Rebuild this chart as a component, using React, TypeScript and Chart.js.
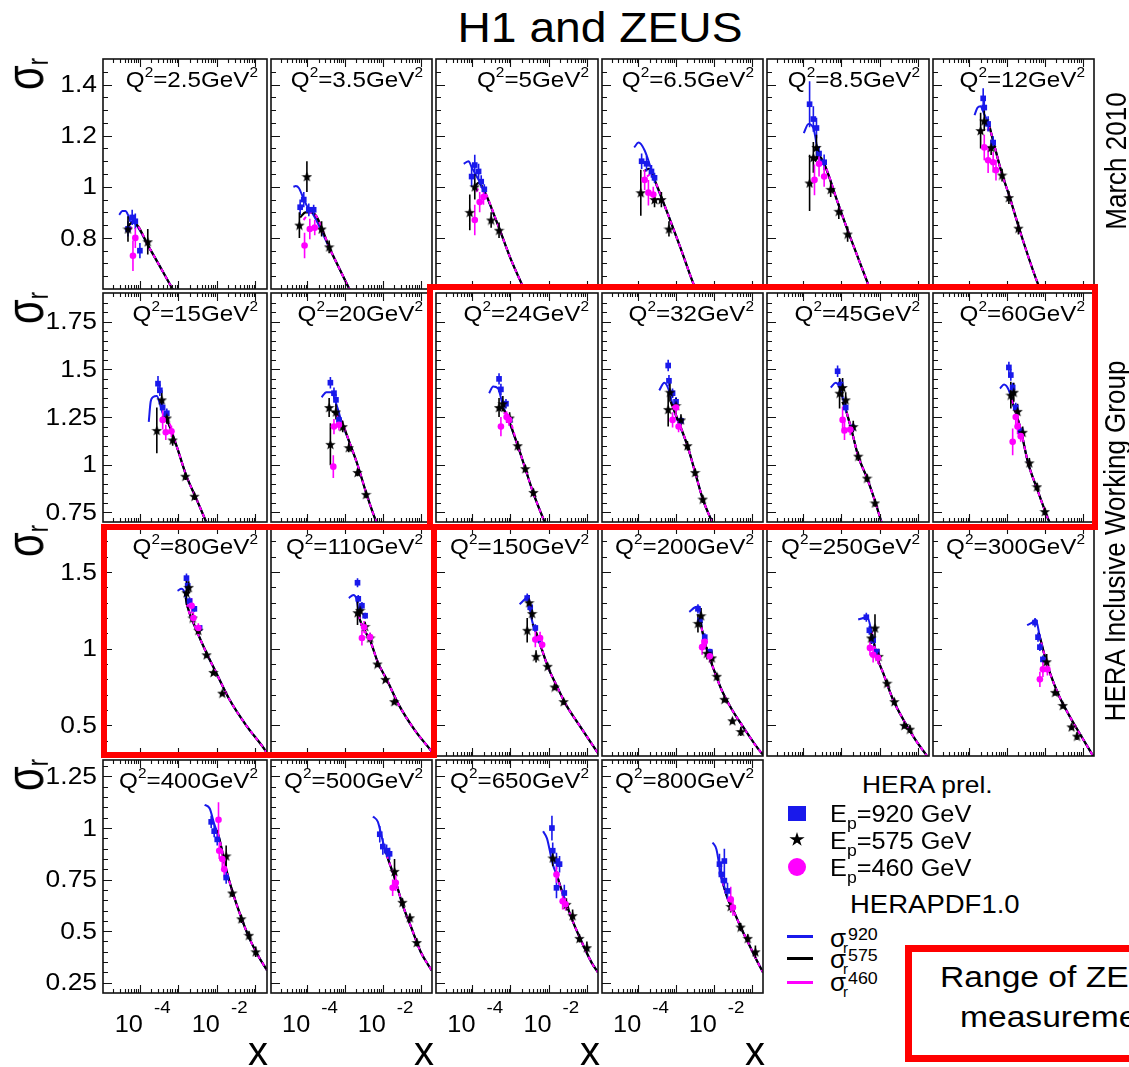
import React, { useEffect, useRef } from 'react';
import { Chart, registerables } from 'chart.js';

Chart.register(...registerables);

const FONT = '"Liberation Sans", Arial, Helvetica, sans-serif';
const SX = 1.1;
const BLUE = 'rgb(25,25,235)';
const MAGENTA = 'rgb(255,0,255)';

// ---------------- data ----------------
const Q2_LABELS = ['2.5', '3.5', '5', '6.5', '8.5', '12', '15', '20', '24', '32', '45', '60', '80', '110', '150', '200', '250', '300', '400', '500', '650', '800'];

const ROW_Y_MIN = [0.6, 0.7, 0.3, 0.2];
const ROW_Y_MAX = [1.5, 1.9, 1.8, 1.33];
const ROW_Y_MAJOR = [[0.8, 1, 1.2, 1.4], [0.75, 1, 1.25, 1.5, 1.75], [0.5, 1, 1.5], [0.25, 0.5, 0.75, 1, 1.25]];
const ROW_Y_LABELS = [['0.8', '1', '1.2', '1.4'], ['0.75', '1', '1.25', '1.5', '1.75'], ['0.5', '1', '1.5'], ['0.25', '0.5', '0.75', '1', '1.25']];
const ROW_Y_MINOR_STEP = [0.05, 0.05, 0.1, 0.05];

const X_MIN = 1.1e-5;
const X_MAX = 0.2;
const X_LABEL_VALUES = [1e-4, 1e-2];
const X_LABEL_EXPONENTS = ['-4', '-2'];

// HERAPDF1.0 curves: low-x part of sigma_r(920), shared high-x part, low-x starts of 575 / 460
const PDF920_HOOK = [
  [[2.9e-5, 0.89], [3.5e-5, 0.905], [4.2e-5, 0.905], [4.9e-5, 0.89], [5.6e-5, 0.865]],
  [[4.3e-5, 1.0], [5.0e-5, 1.003], [6.0e-5, 0.995], [7.9e-5, 0.955], [1.07e-4, 0.915]],
  [[5.9e-5, 1.09], [7.9e-5, 1.10], [9.5e-5, 1.077], [1.45e-4, 1.027]],
  [[7.8e-5, 1.154], [1.02e-4, 1.173], [1.48e-4, 1.142], [2.24e-4, 1.065]],
  [[1.02e-4, 1.21], [1.35e-4, 1.246], [1.82e-4, 1.23], [2.57e-4, 1.115]],
  [[1.38e-4, 1.28], [1.66e-4, 1.31], [2.0e-4, 1.315], [2.4e-4, 1.29], [3.16e-4, 1.25]],
  [[1.7e-4, 1.225], [1.9e-4, 1.33], [2.2e-4, 1.355], [2.75e-4, 1.36], [3.3e-4, 1.32], [3.9e-4, 1.27]],
  [[2.4e-4, 1.354], [3.2e-4, 1.38], [4.3e-4, 1.38], [6.5e-4, 1.29]],
  [[2.75e-4, 1.375], [3.5e-4, 1.41], [4.7e-4, 1.40], [6.3e-4, 1.31]],
  [[3.6e-4, 1.39], [4.9e-4, 1.43], [6.5e-4, 1.39]],
  [[5.2e-4, 1.405], [7.1e-4, 1.43], [9.5e-4, 1.39]],
  [[6.5e-4, 1.40], [8.3e-4, 1.42], [1.12e-3, 1.39]],
  [[9.5e-4, 1.377], [1.2e-3, 1.39], [1.45e-3, 1.365]],
  [[1.26e-3, 1.33], [1.66e-3, 1.35], [2.0e-3, 1.325]],
  [[1.74e-3, 1.29], [2.45e-3, 1.325], [2.95e-3, 1.345], [3.55e-3, 1.20]],
  [[2.24e-3, 1.24], [3.2e-3, 1.27], [4.1e-3, 1.275]],
  [[2.75e-3, 1.19], [3.7e-3, 1.20], [4.7e-3, 1.21]],
  [[3.4e-3, 1.153], [4.6e-3, 1.17], [5.75e-3, 1.19]],
  [[4.8e-3, 1.113], [6.5e-3, 1.095], [8.5e-3, 1.02]],
  [[5.5e-3, 1.056], [7.4e-3, 1.03], [1.0e-2, 0.935]],
  [[7.2e-3, 0.984], [9.1e-3, 0.95], [1.29e-2, 0.825]],
  [[9.3e-3, 0.93], [1.17e-2, 0.897], [1.58e-2, 0.76]],
];

const PDF_MAIN = [
  [[6.6e-5, 0.862], [1.8e-4, 0.758], [6.8e-4, 0.604], [1.0e-3, 0.56]],
  [[1.32e-4, 0.90], [4.3e-4, 0.746], [1.26e-3, 0.604], [1.78e-3, 0.56]],
  [[1.95e-4, 0.99], [4.7e-4, 0.85], [1.0e-3, 0.72], [2.2e-3, 0.604], [3.2e-3, 0.55]],
  [[2.7e-4, 1.027], [6.2e-4, 0.89], [1.32e-3, 0.76], [3.2e-3, 0.604], [4.5e-3, 0.56]],
  [[3.5e-4, 1.09], [7.9e-4, 0.94], [1.45e-3, 0.83], [4.7e-3, 0.63], [7.9e-3, 0.54]],
  [[3.8e-4, 1.21], [6.9e-4, 1.065], [1.23e-3, 0.95], [2.24e-3, 0.823], [6.2e-3, 0.63], [1.0e-2, 0.56]],
  [[5.0e-4, 1.235], [8.9e-4, 1.10], [1.62e-3, 0.94], [2.95e-3, 0.82], [5.4e-3, 0.695], [7.1e-3, 0.64]],
  [[7.8e-4, 1.235], [1.41e-3, 1.10], [2.14e-3, 1.0], [3.8e-3, 0.84], [6.9e-3, 0.695], [1.0e-2, 0.63]],
  [[7.6e-4, 1.27], [1.55e-3, 1.10], [2.45e-3, 0.98], [4.0e-3, 0.85], [8.1e-3, 0.695], [1.12e-2, 0.63]],
  [[8.7e-4, 1.29], [2.0e-3, 1.10], [3.2e-3, 0.96], [5.1e-3, 0.82], [9.3e-3, 0.695], [1.26e-2, 0.64]],
  [[1.29e-3, 1.29], [1.9e-3, 1.17], [2.75e-3, 1.045], [4.7e-3, 0.93], [7.6e-3, 0.81], [1.15e-2, 0.695], [1.58e-2, 0.63]],
  [[1.41e-3, 1.325], [2.3e-3, 1.185], [3.6e-3, 1.01], [6.2e-3, 0.875], [1.12e-2, 0.735], [1.78e-2, 0.64]],
  [[1.74e-3, 1.27], [2.95e-3, 1.12], [5.4e-3, 0.97], [9.5e-3, 0.845], [2.1e-2, 0.67], [5.75e-2, 0.50], [0.166, 0.35], [0.224, 0.30]],
  [[2.5e-3, 1.185], [4.6e-3, 1.055], [7.4e-3, 0.91], [1.26e-2, 0.80], [2.7e-2, 0.63], [7.4e-2, 0.46], [0.182, 0.34], [0.224, 0.31]],
  [[4.5e-3, 1.12], [6.8e-3, 0.99], [9.5e-3, 0.885], [1.66e-2, 0.755], [2.95e-2, 0.63], [6.5e-2, 0.50], [0.186, 0.33], [0.224, 0.30]],
  [[4.9e-3, 1.12], [6.6e-3, 0.99], [9.3e-3, 0.885], [1.58e-2, 0.735], [2.9e-2, 0.61], [5.6e-2, 0.50], [0.182, 0.32], [0.224, 0.30]],
  [[6.3e-3, 1.10], [8.5e-3, 0.95], [1.23e-2, 0.845], [2.24e-2, 0.67], [4.5e-2, 0.525], [9.1e-2, 0.40], [0.166, 0.31], [0.2, 0.28]],
  [[7.4e-3, 1.075], [1.0e-2, 0.95], [1.35e-2, 0.845], [2.4e-2, 0.69], [4.4e-2, 0.565], [8.9e-2, 0.435], [0.17, 0.32], [0.2, 0.29]],
  [[1.15e-2, 0.95], [1.74e-2, 0.80], [2.5e-2, 0.695], [4.3e-2, 0.565], [6.8e-2, 0.47], [0.123, 0.375], [0.2, 0.31]],
  [[1.35e-2, 0.855], [2.04e-2, 0.76], [3.3e-2, 0.63], [5.6e-2, 0.52], [0.1, 0.40], [0.195, 0.31]],
  [[1.74e-2, 0.76], [2.6e-2, 0.66], [4.3e-2, 0.55], [7.8e-2, 0.44], [0.138, 0.345], [0.2, 0.30]],
  [[2.3e-2, 0.66], [3.5e-2, 0.59], [5.1e-2, 0.52], [8.3e-2, 0.44], [0.135, 0.36], [0.2, 0.30]],
];

const PDF575_START = [
  [[4.6e-5, 0.84], [5.6e-5, 0.855]], [[6.5e-5, 0.88], [9.0e-5, 0.90]], [[1.05e-4, 0.99], [1.45e-4, 1.015]],
  [[1.4e-4, 1.06], [1.9e-4, 1.07]], [[2.0e-4, 1.10], [2.6e-4, 1.12]], [[2.6e-4, 1.24], [3.2e-4, 1.25]],
  [[3.6e-4, 1.24], [4.2e-4, 1.245]], [[4.6e-4, 1.28], [6.0e-4, 1.265]], [[5.5e-4, 1.30], [6.5e-4, 1.29]],
  [[7.2e-4, 1.33]], [[1.05e-3, 1.33]], [[1.25e-3, 1.36]], [[1.55e-3, 1.33]], [[2.2e-3, 1.25]], [[3.8e-3, 1.16]],
  [[4.5e-3, 1.17]], [[5.5e-3, 1.13]], [[6.8e-3, 1.10]], [[1.0e-2, 0.99]], [[1.2e-2, 0.89]], [[1.6e-2, 0.79]], [[1.45e-2, 0.79]],
];

const PDF460_START = [
  [[5.6e-5, 0.83]], [[8.0e-5, 0.87], [1.1e-4, 0.895]], [[1.25e-4, 0.98], [1.6e-4, 1.0]],
  [[1.7e-4, 1.04], [2.2e-4, 1.05]], [[2.4e-4, 1.08], [3.0e-4, 1.10]], [[3.0e-4, 1.22], [3.5e-4, 1.23]],
  [[4.2e-4, 1.23]], [[5.5e-4, 1.26], [6.8e-4, 1.25]], [[6.5e-4, 1.27]], [[8.0e-4, 1.31]], [[1.15e-3, 1.31]],
  [[1.33e-3, 1.34]], [[1.65e-3, 1.30]], [[2.35e-3, 1.22]], [[4.2e-3, 1.13]], [[4.7e-3, 1.14]], [[5.9e-3, 1.12]],
  [[7.1e-3, 1.09]], [[1.05e-2, 0.97]], [[1.28e-2, 0.87]], [[1.68e-2, 0.775]], [[1.52e-2, 0.775]],
];

// measurements: [x, sigma_r, error]
const DATA_920 = [
  [[4.9e-5, 0.835, 0.03], [6.3e-5, 0.88, 0.03], [7.6e-5, 0.865, 0.03], [1.0e-4, 0.75, 0.03]],
  [[6.5e-5, 0.92, 0.03], [8.1e-5, 0.95, 0.03], [1.1e-4, 0.91, 0.025], [1.48e-4, 0.91, 0.02]],
  [[9.5e-5, 1.04, 0.04], [1.15e-4, 1.085, 0.04], [1.45e-4, 1.06, 0.03], [1.7e-4, 1.02, 0.025], [2.05e-4, 0.99, 0.02]],
  [[1.23e-4, 1.10, 0.03], [1.66e-4, 1.09, 0.03], [2.24e-4, 1.06, 0.025], [2.7e-4, 1.035, 0.02]],
  [[1.45e-4, 1.323, 0.09], [1.82e-4, 1.265, 0.05], [2.2e-4, 1.23, 0.04], [2.57e-4, 1.13, 0.03], [3.5e-4, 1.096, 0.03]],
  [[2.34e-4, 1.346, 0.04], [2.5e-4, 1.31, 0.03], [3.16e-4, 1.246, 0.03], [4.3e-4, 1.173, 0.025]],
  [[2.95e-4, 1.425, 0.04], [3.3e-4, 1.39, 0.03], [3.9e-4, 1.30, 0.03], [5.0e-4, 1.27, 0.025]],
  [[4.1e-4, 1.43, 0.03], [5.1e-4, 1.375, 0.03], [5.75e-4, 1.34, 0.03], [6.9e-4, 1.235, 0.025]],
  [[5.0e-4, 1.45, 0.03], [5.6e-4, 1.395, 0.03], [7.6e-4, 1.32, 0.025], [9.5e-4, 1.235, 0.02]],
  [[6.2e-4, 1.52, 0.03], [6.5e-4, 1.44, 0.03], [8.1e-4, 1.375, 0.025], [1.0e-3, 1.33, 0.025], [1.35e-3, 1.23, 0.02]],
  [[7.9e-4, 1.49, 0.03], [9.5e-4, 1.42, 0.03], [1.29e-3, 1.30, 0.025], [1.95e-3, 1.195, 0.02]],
  [[1.12e-3, 1.51, 0.03], [1.26e-3, 1.47, 0.03], [1.41e-3, 1.405, 0.025], [1.7e-3, 1.30, 0.025], [2.3e-3, 1.175, 0.02]],
  [[1.62e-3, 1.46, 0.03], [1.74e-3, 1.41, 0.03], [1.95e-3, 1.31, 0.025], [2.6e-3, 1.26, 0.02], [3.55e-3, 1.135, 0.02]],
  [[2.14e-3, 1.43, 0.03], [2.24e-3, 1.325, 0.025], [2.8e-3, 1.28, 0.025], [3.4e-3, 1.215, 0.02]],
  [[2.75e-3, 1.33, 0.03], [3.3e-3, 1.27, 0.03], [4.5e-3, 1.135, 0.025], [5.4e-3, 1.06, 0.02]],
  [[3.8e-3, 1.26, 0.03], [4.3e-3, 1.185, 0.03], [5.75e-3, 1.075, 0.025], [7.8e-3, 0.98, 0.02]],
  [[4.5e-3, 1.205, 0.03], [5.4e-3, 1.12, 0.03], [6.8e-3, 1.055, 0.025], [8.5e-3, 0.98, 0.02]],
  [[5.5e-3, 1.17, 0.03], [6.6e-3, 1.075, 0.03], [7.4e-3, 1.01, 0.025], [8.9e-3, 0.93, 0.025]],
  [[7.1e-3, 1.03, 0.03], [8.5e-3, 0.985, 0.03], [1.02e-2, 0.945, 0.03], [1.74e-2, 0.76, 0.03]],
  [[8.3e-3, 0.97, 0.04], [1.0e-2, 0.91, 0.04], [1.26e-2, 0.89, 0.03], [1.51e-2, 0.875, 0.03]],
  [[1.23e-2, 1.0, 0.06], [1.29e-2, 0.89, 0.04], [1.62e-2, 0.84, 0.04], [1.95e-2, 0.825, 0.04], [1.62e-2, 0.71, 0.05], [2.6e-2, 0.685, 0.04]],
  [[1.41e-2, 0.825, 0.05], [1.58e-2, 0.775, 0.04], [1.9e-2, 0.84, 0.06], [1.9e-2, 0.745, 0.04], [2.3e-2, 0.695, 0.04]],
];

const DATA_575 = [
  [[4.9e-5, 0.835, 0.05], [1.6e-4, 0.785, 0.05]],
  [[6.2e-5, 0.85, 0.05], [9.8e-5, 1.04, 0.06], [2.4e-4, 0.835, 0.03], [3.8e-4, 0.765, 0.025]],
  [[8.5e-5, 0.90, 0.07], [1.15e-4, 1.0, 0.05], [3.1e-4, 0.87, 0.03], [5.0e-4, 0.83, 0.03]],
  [[1.17e-4, 0.977, 0.09], [2.7e-4, 0.95, 0.03], [4.1e-4, 0.95, 0.03], [6.5e-4, 0.835, 0.03]],
  [[1.45e-4, 1.015, 0.11], [1.82e-4, 1.115, 0.06], [2.2e-4, 1.154, 0.05], [5.2e-4, 0.99, 0.03], [8.5e-4, 0.904, 0.03], [1.45e-3, 0.815, 0.03]],
  [[2.0e-4, 1.22, 0.07], [2.5e-4, 1.258, 0.04], [3.8e-4, 1.154, 0.03], [7.4e-4, 1.046, 0.025], [1.12e-3, 0.958, 0.025], [2.0e-3, 0.838, 0.025]],
  [[2.75e-4, 1.18, 0.12], [3.7e-4, 1.34, 0.05], [5.0e-4, 1.245, 0.03], [7.1e-4, 1.13, 0.03], [1.51e-3, 0.94, 0.02], [2.6e-3, 0.835, 0.02]],
  [[4.1e-4, 1.107, 0.11], [3.8e-4, 1.30, 0.05], [5.75e-4, 1.277, 0.04], [8.7e-4, 1.20, 0.03], [1.26e-3, 1.09, 0.025], [2.14e-3, 0.96, 0.02], [3.6e-3, 0.845, 0.02]],
  [[5.0e-4, 1.30, 0.05], [6.3e-4, 1.32, 0.04], [9.5e-4, 1.245, 0.03], [1.55e-3, 1.10, 0.025], [2.45e-3, 0.98, 0.02], [4.0e-3, 0.855, 0.02]],
  [[6.2e-4, 1.29, 0.09], [6.9e-4, 1.38, 0.05], [1.0e-3, 1.31, 0.04], [1.35e-3, 1.235, 0.03], [2.0e-3, 1.10, 0.025], [3.2e-3, 0.96, 0.02], [5.1e-3, 0.82, 0.02]],
  [[8.9e-4, 1.375, 0.08], [1.07e-3, 1.405, 0.05], [1.29e-3, 1.34, 0.04], [2.04e-3, 1.20, 0.03], [2.75e-3, 1.045, 0.025], [4.7e-3, 0.93, 0.02], [7.6e-3, 0.80, 0.02]],
  [[1.26e-3, 1.365, 0.07], [1.51e-3, 1.38, 0.05], [1.9e-3, 1.28, 0.04], [2.6e-3, 1.17, 0.03], [3.9e-3, 1.01, 0.025], [6.2e-3, 0.885, 0.02], [1.0e-2, 0.755, 0.02]],
  [[1.62e-3, 1.365, 0.08], [1.86e-3, 1.40, 0.04], [2.35e-3, 1.20, 0.03], [3.3e-3, 1.12, 0.025], [5.4e-3, 0.96, 0.02], [8.1e-3, 0.845, 0.015], [1.38e-2, 0.71, 0.015]],
  [[2.14e-3, 1.235, 0.08], [2.5e-3, 1.25, 0.04], [3.4e-3, 1.145, 0.03], [4.6e-3, 1.07, 0.025], [7.2e-3, 0.90, 0.02], [1.17e-2, 0.80, 0.015], [2.0e-2, 0.655, 0.015]],
  [[2.75e-3, 1.12, 0.08], [3.1e-3, 1.30, 0.05], [3.7e-3, 1.23, 0.04], [4.7e-3, 0.95, 0.04], [9.5e-3, 0.885, 0.02], [1.45e-2, 0.75, 0.02], [2.5e-2, 0.655, 0.02]],
  [[3.8e-3, 1.165, 0.06], [4.6e-3, 1.215, 0.05], [6.6e-3, 0.97, 0.04], [8.9e-3, 0.94, 0.05], [1.2e-2, 0.82, 0.02], [1.9e-2, 0.67, 0.02], [3.1e-2, 0.53, 0.02], [5.2e-2, 0.46, 0.03]],
  [[6.0e-3, 1.07, 0.04], [7.6e-3, 1.135, 0.09], [9.5e-3, 0.95, 0.05], [1.58e-2, 0.775, 0.02], [2.45e-2, 0.655, 0.02], [4.5e-2, 0.50, 0.02], [6.3e-2, 0.475, 0.025]],
  [[1.12e-2, 0.915, 0.05], [1.86e-2, 0.715, 0.02], [3.0e-2, 0.63, 0.02], [5.1e-2, 0.49, 0.02], [7.1e-2, 0.43, 0.025]],
  [[1.74e-2, 0.865, 0.05], [2.5e-2, 0.685, 0.02], [4.3e-2, 0.56, 0.02], [6.8e-2, 0.48, 0.02], [0.102, 0.40, 0.025]],
  [[2.04e-2, 0.79, 0.06], [3.3e-2, 0.64, 0.02], [5.2e-2, 0.565, 0.02], [7.9e-2, 0.445, 0.02]],
  [[1.29e-2, 0.855, 0.04], [2.95e-2, 0.63, 0.03], [4.3e-2, 0.575, 0.03], [6.5e-2, 0.465, 0.02], [0.102, 0.42, 0.03]],
  [[2.8e-2, 0.62, 0.03], [5.1e-2, 0.52, 0.02], [7.9e-2, 0.465, 0.02], [0.126, 0.40, 0.03]],
];

const DATA_460 = [
  [[6.6e-5, 0.73, 0.06], [7.6e-5, 0.80, 0.04]],
  [[8.5e-5, 0.77, 0.05], [1.17e-4, 0.835, 0.04], [1.58e-4, 0.84, 0.03]],
  [[1.15e-4, 0.87, 0.06], [1.55e-4, 0.94, 0.04], [1.95e-4, 0.96, 0.03]],
  [[1.48e-4, 1.027, 0.04], [1.86e-4, 0.977, 0.05], [2.5e-4, 0.97, 0.03]],
  [[1.95e-4, 1.027, 0.06], [2.57e-4, 1.09, 0.05], [3.5e-4, 1.04, 0.04]],
  [[2.5e-4, 1.154, 0.05], [3.16e-4, 1.104, 0.05], [4.3e-4, 1.096, 0.04], [5.1e-4, 1.065, 0.04]],
  [[3.9e-4, 1.235, 0.05], [4.7e-4, 1.17, 0.04], [6.6e-4, 1.175, 0.03]],
  [[4.9e-4, 0.99, 0.06], [5.1e-4, 1.20, 0.04], [6.9e-4, 1.21, 0.03]],
  [[5.6e-4, 1.20, 0.05], [7.9e-4, 1.25, 0.03], [9.1e-4, 1.235, 0.03]],
  [[8.1e-4, 1.235, 0.04], [1.0e-3, 1.30, 0.03], [1.17e-3, 1.20, 0.03]],
  [[1.07e-3, 1.235, 0.07], [1.2e-3, 1.18, 0.05], [1.7e-3, 1.185, 0.03]],
  [[1.41e-3, 1.12, 0.07], [1.7e-3, 1.25, 0.04], [1.9e-3, 1.20, 0.04], [2.3e-3, 1.15, 0.03]],
  [[2.2e-3, 1.28, 0.05], [2.45e-3, 1.20, 0.04], [3.3e-3, 1.135, 0.03]],
  [[2.8e-3, 1.07, 0.05], [3.2e-3, 1.14, 0.04], [4.6e-3, 1.075, 0.03]],
  [[4.5e-3, 1.06, 0.05], [6.0e-3, 1.07, 0.04], [6.8e-3, 1.025, 0.03]],
  [[4.9e-3, 1.01, 0.05], [5.75e-3, 1.045, 0.04], [7.8e-3, 0.95, 0.04]],
  [[5.6e-3, 1.005, 0.05], [6.8e-3, 0.96, 0.05], [9.1e-3, 0.94, 0.04]],
  [[7.4e-3, 0.80, 0.05], [8.9e-3, 0.865, 0.05], [1.17e-2, 0.865, 0.04]],
  [[1.1e-2, 1.04, 0.085], [1.15e-2, 0.89, 0.04], [1.38e-2, 0.85, 0.04], [1.55e-2, 0.80, 0.04]],
  [[1.82e-2, 0.71, 0.04], [2.2e-2, 0.735, 0.04]],
  [[1.62e-2, 0.775, 0.04], [2.35e-2, 0.645, 0.04], [2.8e-2, 0.63, 0.03]],
  [[2.8e-2, 0.655, 0.06], [3.2e-2, 0.615, 0.04]],
];

// ---------------- layout ----------------
const COL_X0 = 103;
const PANEL_W = 165.5;
const ROW_TOPS = [57, 291, 524, 758];
const ROW_BOTTOMS = [291, 524, 758, 993];

function panelBox(p: number) {
  const row = Math.floor(p / 6);
  const col = p % 6;
  const l = Math.round(COL_X0 + col * PANEL_W);
  const r = Math.round(COL_X0 + (col + 1) * PANEL_W);
  const t = ROW_TOPS[row];
  const b = ROW_BOTTOMS[row];
  const padL = col === 0 ? 100 : 4;
  const padR = 4;
  const padT = 4;
  const padB = row === 3 ? 52 : 4;
  return { row, col, padL, padR, padT, padB, left: l - padL, top: t - padT, width: r - l + padL + padR, height: b - t + padT + padB };
}

function makeStar(size: number, color: string) {
  const c = document.createElement('canvas');
  c.width = size;
  c.height = size;
  const g = c.getContext('2d') as CanvasRenderingContext2D;
  g.fillStyle = color;
  g.beginPath();
  const cx = size / 2, cy = size / 2 + 0.5, R = size / 2, r = R * 0.42;
  for (let i = 0; i < 10; i++) {
    const ang = -Math.PI / 2 + (i * Math.PI) / 5;
    const rad = i % 2 === 0 ? R : r;
    const x = cx + rad * Math.cos(ang);
    const y = cy + rad * Math.sin(ang);
    if (i === 0) g.moveTo(x, y); else g.lineTo(x, y);
  }
  g.closePath();
  g.fill();
  return c;
}

function stretchText(ctx: any, text: string, x: number, y: number, size: number, align: string, baseline = 'alphabetic', sx = SX) {
  ctx.font = `${size}px ${FONT}`;
  ctx.textBaseline = baseline;
  const w = ctx.measureText(text).width * sx;
  const left = align === 'left' ? x : align === 'right' ? x - w : x - w / 2;
  ctx.save();
  ctx.translate(left, y);
  ctx.scale(sx, 1);
  ctx.textAlign = 'left';
  ctx.fillText(text, 0, 0);
  ctx.restore();
  return w;
}

function framePlugin(p: number) {
  const row = Math.floor(p / 6);
  const col = p % 6;
  return {
    id: 'frame' + p,
    afterDatasetsDraw(chart: any) {
      const ctx = chart.ctx;
      const a = chart.chartArea;
      const xs = chart.scales.x;
      const ys = chart.scales.y;
      ctx.save();
      ctx.strokeStyle = '#111';
      ctx.fillStyle = '#000';
      ctx.lineWidth = 1.1;
      ctx.beginPath();
      for (let e = -5; e <= -1; e++) {
        for (let k = 1; k <= 9; k++) {
          const v = k * Math.pow(10, e);
          if (v <= X_MIN || v >= X_MAX) continue;
          const px = Math.round(xs.getPixelForValue(v)) + 0.5;
          const len = k === 1 ? 8 : 4;
          ctx.moveTo(px, a.bottom);
          ctx.lineTo(px, a.bottom - len);
          ctx.moveTo(px, a.top);
          ctx.lineTo(px, a.top + len);
        }
      }
      const step = ROW_Y_MINOR_STEP[row];
      const kMin = Math.ceil(ROW_Y_MIN[row] / step - 1e-6);
      const kMax = Math.floor(ROW_Y_MAX[row] / step + 1e-6);
      for (let k = kMin; k <= kMax; k++) {
        const v = k * step;
        if (v <= ROW_Y_MIN[row] + 1e-6 || v >= ROW_Y_MAX[row] - 1e-6) continue;
        const major = ROW_Y_MAJOR[row].some((m) => Math.abs(m - v) < 1e-6);
        const py = Math.round(ys.getPixelForValue(v)) + 0.5;
        ctx.moveTo(a.left, py);
        ctx.lineTo(a.left + (major ? 9 : 5), py);
      }
      ctx.stroke();
      ctx.lineWidth = 1.6;
      ctx.strokeRect(a.left, a.top, a.right - a.left, a.bottom - a.top);

      // Q^2 label
      const parts: [string, number, number][] = [['Q', 22, 0], ['2', 14, -10], ['=' + Q2_LABELS[p] + 'GeV', 22, 0], ['2', 14, -10]];
      const widths = parts.map(([t, s]) => {
        ctx.font = `${s}px ${FONT}`;
        return ctx.measureText(t).width * SX;
      });
      let x = a.right - 9 - widths.reduce((s, w) => s + w, 0);
      parts.forEach(([t, s, dy], i) => {
        stretchText(ctx, t, x, a.top + 28 + dy, s, 'left');
        x += widths[i];
      });

      if (col === 0) {
        ROW_Y_MAJOR[row].forEach((v, i) => {
          const py = ys.getPixelForValue(v);
          stretchText(ctx, ROW_Y_LABELS[row][i], a.left - 6, py + 1, 24, 'right', 'middle');
        });
      }
      if (row === 3) {
        X_LABEL_VALUES.forEach((v, i) => {
          const px = xs.getPixelForValue(v);
          stretchText(ctx, '10', px + 3, a.bottom + 39, 23, 'right');
          stretchText(ctx, X_LABEL_EXPONENTS[i], px + 14, a.bottom + 20, 17, 'left');
        });
      }
      ctx.restore();
    },
  };
}

const toPts = (d: number[][]) => d.map(([x, y]) => ({ x, y }));
const errBars = (d: number[][]) => {
  const out: any[] = [];
  d.forEach(([x, y, e]) => {
    out.push({ x, y: y - e }, { x, y: y + e }, { x, y: null });
  });
  return out;
};

function Txt({ x, y, size, anchor = 'left', sx = SX, children, color = '#000' }: any) {
  const style: any = {
    position: 'absolute',
    top: y - 0.8465 * size,
    fontSize: size,
    lineHeight: `${size}px`,
    whiteSpace: 'nowrap',
    color,
  };
  if (anchor === 'left') {
    style.left = x;
    style.transform = `scaleX(${sx})`;
    style.transformOrigin = '0 50%';
  } else {
    style.left = x;
    style.transform = `translateX(-50%) scaleX(${sx})`;
  }
  return <div style={style}>{children}</div>;
}

function VText({ cx, cy, size, sy = 1, children }: any) {
  return (
    <div
      style={{
        position: 'absolute',
        left: cx,
        top: cy,
        fontSize: size,
        lineHeight: `${size}px`,
        whiteSpace: 'nowrap',
        transform: `translate(-50%,-50%) rotate(-90deg) scaleY(${sy})`,
      }}
    >
      {children}
    </div>
  );
}

const Sub = ({ children, size = 16, dy = 7 }: any) => (
  <span style={{ fontSize: size, position: 'relative', top: dy }}>{children}</span>
);

export default function App() {
  const refs = useRef<(HTMLCanvasElement | null)[]>([]);

  useEffect(() => {
    const star = makeStar(11, '#000');
    const charts: any[] = [];
    Q2_LABELS.forEach((_, p) => {
      const canvas = refs.current[p];
      if (!canvas) return;
      const box = panelBox(p);
      const line = (data: any[], color: string, width: number, order: number, extra: any = {}) => ({
        data,
        showLine: true,
        borderColor: color,
        backgroundColor: color,
        borderWidth: width,
        pointRadius: 0,
        spanGaps: false,
        order,
        ...extra,
      });
      const chart = new Chart(canvas, {
        type: 'scatter',
        data: {
          datasets: [
            line(toPts([...PDF920_HOOK[p], ...PDF_MAIN[p]]), BLUE, 2, 9, { cubicInterpolationMode: 'monotone' }),
            line(toPts([...PDF575_START[p], ...PDF_MAIN[p]]), '#000', 2.2, 8, { cubicInterpolationMode: 'monotone' }),
            line(toPts([...PDF460_START[p], ...PDF_MAIN[p]]), MAGENTA, 2, 7, { cubicInterpolationMode: 'monotone', borderDash: [4, 4] }),
            line(errBars(DATA_920[p]), BLUE, 1.6, 6),
            line(errBars(DATA_575[p]), '#000', 1.6, 5),
            line(errBars(DATA_460[p]), MAGENTA, 1.6, 4),
            { data: toPts(DATA_920[p]), showLine: false, pointStyle: 'rect', pointRadius: 4, pointBorderWidth: 0, backgroundColor: BLUE, borderColor: BLUE, order: 3 },
            { data: toPts(DATA_575[p]), showLine: false, pointStyle: star, pointRadius: 5, backgroundColor: '#000', borderColor: '#000', order: 2 },
            { data: toPts(DATA_460[p]), showLine: false, pointStyle: 'circle', pointRadius: 3.3, pointBorderWidth: 0, backgroundColor: MAGENTA, borderColor: MAGENTA, order: 1 },
          ] as any,
        },
        options: {
          responsive: false,
          animation: false,
          devicePixelRatio: 1,
          events: [],
          layout: { padding: { left: box.padL, right: box.padR, top: box.padT, bottom: box.padB } },
          plugins: { legend: { display: false }, tooltip: { enabled: false } },
          scales: {
            x: { type: 'logarithmic', min: X_MIN, max: X_MAX, display: false },
            y: { type: 'linear', min: ROW_Y_MIN[box.row], max: ROW_Y_MAX[box.row], display: false },
          },
        } as any,
        plugins: [framePlugin(p)],
      });
      charts.push(chart);
    });
    return () => charts.forEach((c) => c.destroy());
  }, []);

  // legend rows: label, sigma baseline, colour, line centre
  const legendSigma = [
    ['920', 947, BLUE, 936],
    ['575', 968, '#000', 958],
    ['460', 991, MAGENTA, 982],
  ];

  return (
    <div
      style={{
        position: 'fixed',
        left: 0,
        top: 0,
        width: 1129,
        height: 1067,
        overflow: 'hidden',
        background: '#fff',
        fontFamily: FONT,
        color: '#000',
      }}
    >
      {Q2_LABELS.map((_, p) => {
        const b = panelBox(p);
        return (
          <canvas
            key={p}
            ref={(el) => {
              refs.current[p] = el;
            }}
            width={b.width}
            height={b.height}
            style={{ position: 'absolute', left: b.left, top: b.top }}
          />
        );
      })}

      <Txt x={600} y={43} size={42} anchor="center">H1 and ZEUS</Txt>

      {ROW_TOPS.map((t, i) => (
        <VText key={i} cx={29} cy={t + 17} size={40} sy={1.3}>
          σ<span style={{ fontSize: 22, position: 'relative', top: 4 }}>r</span>
        </VText>
      ))}

      <VText cx={1116} cy={161} size={26} sy={1.12}>March 2010</VText>
      <VText cx={1115} cy={541} size={26} sy={1.12}>HERA Inclusive Working Group</VText>

      {[258, 424, 590, 755].map((cx, i) => (
        <Txt key={i} x={cx} y={1065} size={40} anchor="center" sx={1}>x</Txt>
      ))}

      {/* legend */}
      <Txt x={862} y={793} size={24}>HERA prel.</Txt>
      <div style={{ position: 'absolute', left: 788, top: 806, width: 18, height: 15, background: BLUE }} />
      <Txt x={830} y={822} size={23}>E<Sub>p</Sub>=920 GeV</Txt>
      <div
        style={{
          position: 'absolute',
          left: 789,
          top: 832,
          width: 16,
          height: 15,
          background: '#000',
          clipPath: 'polygon(50% 0%, 61% 35%, 98% 35%, 68% 57%, 79% 91%, 50% 70%, 21% 91%, 32% 57%, 2% 35%, 39% 35%)',
        }}
      />
      <Txt x={830} y={849} size={23}>E<Sub>p</Sub>=575 GeV</Txt>
      <div style={{ position: 'absolute', left: 788, top: 858, width: 18, height: 18, borderRadius: '50%', background: MAGENTA }} />
      <Txt x={830} y={876} size={23}>E<Sub>p</Sub>=460 GeV</Txt>
      <Txt x={850} y={913} size={25}>HERAPDF1.0</Txt>
      {legendSigma.map(([lab, base, color, ly]: any, i) => (
        <React.Fragment key={i}>
          <div style={{ position: 'absolute', left: 787, top: ly - 1.5, width: 26, height: 3, background: color }} />
          <Txt x={830} y={base} size={26} sx={1}>σ</Txt>
          <Txt x={848} y={base - 7} size={17} sx={1.05}>{lab}</Txt>
          <Txt x={843} y={base + 6} size={15} sx={1}>r</Txt>
        </React.Fragment>
      ))}

      {/* red boxes */}
      <div style={{ position: 'absolute', left: 427, top: 284, width: 671, height: 246, border: '6px solid #ff0000', boxSizing: 'border-box' }} />
      <div style={{ position: 'absolute', left: 101, top: 524, width: 336, height: 234, border: '6px solid #ff0000', boxSizing: 'border-box' }} />
      <div style={{ position: 'absolute', left: 905, top: 945, width: 266, height: 117, border: '7px solid #ff0000', boxSizing: 'border-box', background: '#fff' }} />
      <Txt x={940} y={987} size={30} sx={1.12}>Range of ZEUS</Txt>
      <Txt x={960} y={1027} size={30} sx={1.12}>measurements</Txt>
    </div>
  );
}
